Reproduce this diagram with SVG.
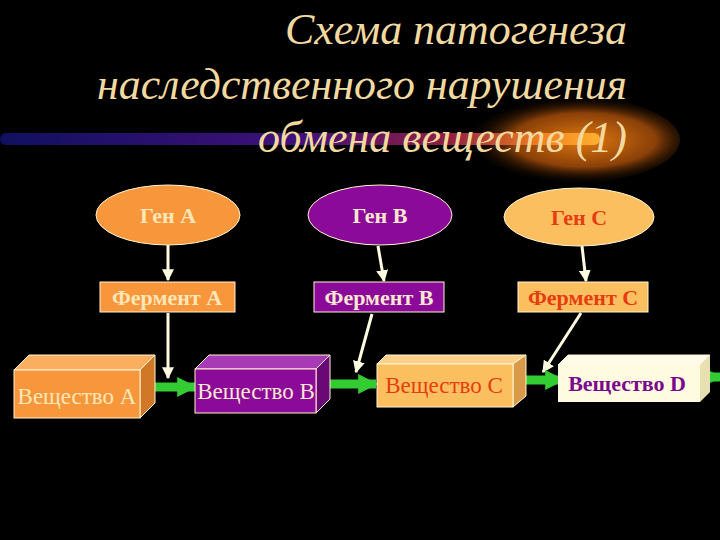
<svg xmlns="http://www.w3.org/2000/svg" width="720" height="540" viewBox="0 0 720 540">
<defs>
<linearGradient id="bar" x1="0" x2="1" y1="0" y2="0">
<stop offset="0" stop-color="#101060"/><stop offset="0.5" stop-color="#40107a"/><stop offset="0.75" stop-color="#902040"/><stop offset="0.9" stop-color="#f08020"/><stop offset="1" stop-color="#ffb030"/>
</linearGradient>
<radialGradient id="glow" cx="0.6" cy="0.5" r="0.5">
<stop offset="0" stop-color="#e07810"/><stop offset="0.6" stop-color="#8a4008"/><stop offset="1" stop-color="#000" stop-opacity="0"/>
</radialGradient>
<marker id="ah" viewBox="0 0 10 10" refX="9" refY="5" markerWidth="4" markerHeight="4" orient="auto"><path d="M0,0L10,5L0,10z" fill="#fffbe0"/></marker>
<marker id="gh" viewBox="0 0 10 10" refX="9" refY="5" markerWidth="2.2" markerHeight="2.2" orient="auto"><path d="M0,0L10,5L0,10z" fill="#33cc33"/></marker>
</defs>
<style>
text{font-family:"Liberation Serif","DejaVu Serif",serif}
.t{font-style:italic;font-size:44px;fill:#f2d9a0;text-anchor:end}
.b{font-weight:bold;font-size:22px;text-anchor:middle}
.n{font-size:23px;text-anchor:middle}
.c{stroke:#fffbe0;stroke-width:3;fill:none;marker-end:url(#ah)}
.g{stroke:#33cc33;stroke-width:9;fill:none;marker-end:url(#gh)}
.e{stroke:#fff5d0;stroke-width:1}
</style>
<rect width="720" height="540" fill="#000"/>
<ellipse cx="560" cy="140" rx="120" ry="45" fill="url(#glow)"/>
<rect x="0" y="133" width="600" height="12" rx="6" fill="url(#bar)"/>
<text class="t" x="627" y="44" textLength="342" lengthAdjust="spacingAndGlyphs">Схема патогенеза</text>
<text class="t" x="627" y="99" textLength="530" lengthAdjust="spacingAndGlyphs">наследственного нарушения</text>
<text class="t" x="627" y="152" textLength="369" lengthAdjust="spacingAndGlyphs">обмена веществ (1)</text>
<g id="connectors">
<line class="c" x1="168" y1="245" x2="168" y2="280"/>
<line class="c" x1="168" y1="313" x2="168" y2="378"/>
<line class="c" x1="378" y1="246" x2="384" y2="281"/>
<line class="c" x1="372" y1="314" x2="356" y2="372"/>
<line class="c" x1="582" y1="246" x2="586" y2="281"/>
<line class="c" x1="581" y1="313" x2="543" y2="372"/>
<line class="g" x1="144" y1="387" x2="195" y2="387"/>
<line class="g" x1="327" y1="384" x2="376" y2="384"/>
<line class="g" x1="519" y1="380" x2="563" y2="380"/>
<line class="g" x1="703" y1="377" x2="720" y2="377"/>
</g>
<g id="genA"><ellipse class="e" cx="168" cy="215" rx="72" ry="30" fill="#f7963a"/><text class="b" x="168" y="223" fill="#fbe6b8">Ген А</text></g>
<g id="genB"><ellipse class="e" cx="380" cy="215" rx="72" ry="30" fill="#8c0a99"/><text class="b" x="380" y="223" fill="#fbe6d0">Ген В</text></g>
<g id="genC"><ellipse class="e" cx="579" cy="217" rx="75" ry="29" fill="#fbbf60"/><text class="b" x="579" y="225" fill="#e63c10">Ген С</text></g>
<g id="fermA"><rect class="e" x="100" y="282" width="135" height="30" fill="#f7963a"/><text class="b" x="167" y="305" fill="#fbe6b8">Фермент А</text></g>
<g id="fermB"><rect class="e" x="314" y="282" width="130" height="30" fill="#8c0a99"/><text class="b" x="379" y="305" fill="#fbe6d0">Фермент В</text></g>
<g id="fermC"><rect class="e" x="518" y="282" width="130" height="30" fill="#fbbf60"/><text class="b" x="583" y="305" fill="#e63c10">Фермент С</text></g>
<g id="vA"><path class="e" d="M14,370L29,355L155,355L140,370z" fill="#f9ae60"/><path class="e" d="M140,370L155,355L155,403L140,418z" fill="#d07828"/><rect class="e" x="14" y="370" width="126" height="48" fill="#f7963a"/><text class="n" x="77" y="404" fill="#fbe6b8">Вещество А</text></g>
<g id="vB"><path class="e" d="M195,369L209,355L330,355L316,369z" fill="#a83ab5"/><path class="e" d="M316,369L330,355L330,399L316,413z" fill="#6a0875"/><rect class="e" x="195" y="369" width="121" height="44" fill="#8c0a99"/><text class="n" x="256" y="399" fill="#fbe6d0">Вещество В</text></g>
<g id="vC"><path class="e" d="M377,364L386,355L526,355L513,364z" fill="#fcd088"/><path class="e" d="M513,364L526,355L526,396L513,407z" fill="#d89a48"/><rect class="e" x="377" y="364" width="136" height="43" fill="#fbbf60"/><text class="n" x="444" y="393" fill="#e63c10">Вещество С</text></g>
<g id="vD"><path class="e" d="M558,365L568,355L710,355L700,365z" fill="#fffbe8"/><path d="M700,365L710,355L710,392L700,402z" fill="#e8e0b0"/><rect x="558" y="365" width="142" height="37" fill="#fffbe0"/><text class="b" x="627" y="391" fill="#7a0a8c">Вещество D</text></g>
</svg>
